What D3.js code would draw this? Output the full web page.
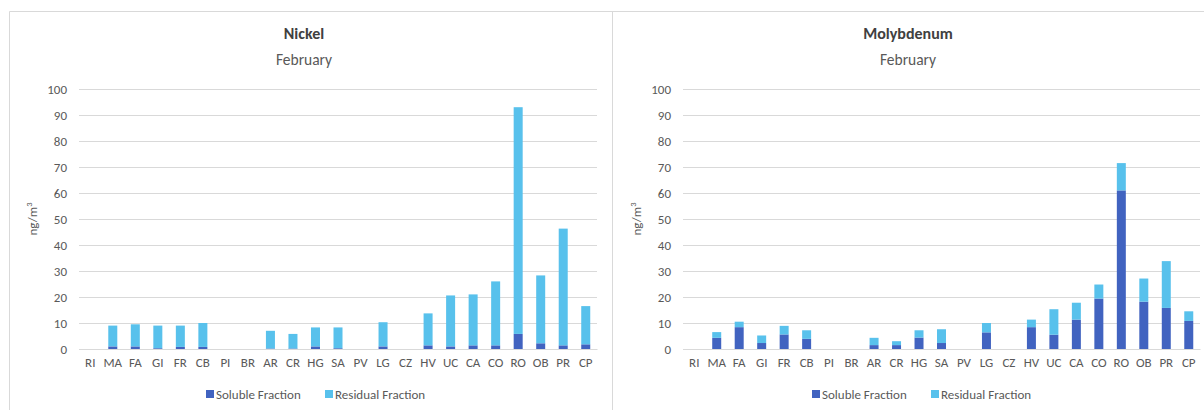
<!DOCTYPE html>
<html>
<head>
<meta charset="utf-8">
<script src="https://cdn.jsdelivr.net/npm/d3@7"></script>
<style>
  html, body { margin: 0; padding: 0; background: #fff; }
  svg { display: block; font-family: Carlito, "Open Sans", "Noto Sans", sans-serif; }
</style>
</head>
<body>
<svg id="chart" width="1204" height="410"></svg>
<script>
// Sampling sites (x categories), shared by both panels
const sites = ["RI","MA","FA","GI","FR","CB","PI","BR","AR","CR","HG","SA","PV","LG","CZ","HV","UC","CA","CO","RO","OB","PR","CP"];

// Nickel, February (ng/m3)
const nickelSoluble  = [0, 1.0, 1.0, 0.3, 0.8, 0.8, 0, 0, 0.2, 0.2, 1.0, 0.3, 0, 1.0, 0, 1.4, 1.0, 1.4, 1.4, 5.8, 2.2, 1.4, 1.8];
const nickelResidual = [0, 8.0, 8.5, 8.7, 8.2, 9.2, 0, 0, 6.8, 5.6, 7.3, 8.0, 0, 9.3, 0, 12.3, 19.6, 19.6, 24.6, 87.2, 26.1, 44.9, 14.7];

// Molybdenum, February (ng/m3)
const molySoluble  = [0, 4.3, 8.4, 2.3, 5.6, 3.9, 0, 0, 1.5, 1.5, 4.4, 2.3, 0, 6.4, 0, 8.4, 5.5, 11.3, 19.4, 61.0, 18.2, 15.8, 10.8];
const molyResidual = [0, 2.2, 2.1, 2.9, 3.3, 3.3, 0, 0, 2.8, 1.5, 2.8, 5.3, 0, 3.6, 0, 2.9, 9.8, 6.5, 5.4, 10.5, 8.9, 18.0, 3.7];

const yTicks = [0, 10, 20, 30, 40, 50, 60, 70, 80, 90, 100];
const seriesNames = ["Soluble Fraction", "Residual Fraction"];
const colors = ["#4163c0", "#58c1ec"];

const svg = d3.select("#chart");
const textColor = "#595959";
const gridColor = "#d9d9d9";
const labelFont = "Carlito, 'Open Sans', sans-serif";

// Outer frame lines of the two chart boxes
svg.append("line").attr("x1", 9.5).attr("x2", 1204).attr("y1", 11.5).attr("y2", 11.5)
  .attr("stroke", gridColor);
svg.append("line").attr("x1", 9.5).attr("x2", 9.5).attr("y1", 11.5).attr("y2", 410)
  .attr("stroke", gridColor);
svg.append("line").attr("x1", 612.5).attr("x2", 612.5).attr("y1", 11.5).attr("y2", 410)
  .attr("stroke", gridColor);

function drawPanel(cfg) {
  const g = svg.append("g");
  const x = d3.scaleBand().domain(sites).range([cfg.left, cfg.right]).paddingInner(0.6).paddingOuter(0.3);
  const y = d3.scaleLinear().domain([0, 100]).range([349, 89]);

  // Titles
  g.append("text").attr("x", cfg.center).attr("y", 39).attr("text-anchor", "middle")
    .attr("font-size", 16).attr("font-weight", "bold").attr("fill", "#404040").text(cfg.title);
  g.append("text").attr("x", cfg.center).attr("y", 65).attr("text-anchor", "middle")
    .attr("font-size", 15.5).attr("fill", textColor).text("February");

  // Gridlines + y tick labels
  const yAxis = d3.axisLeft(y).tickValues(yTicks).tickSize(-(cfg.right - cfg.left)).tickPadding(12);
  const ya = g.append("g").attr("transform", `translate(${cfg.left},0)`).call(yAxis);
  ya.select(".domain").remove();
  ya.selectAll(".tick line").attr("stroke", gridColor).attr("stroke-width", 1);
  ya.selectAll(".tick text").attr("fill", textColor).attr("font-size", 13)
    .attr("font-family", labelFont);

  // Axis title
  const yt = g.append("text").attr("transform", `translate(${cfg.left - 42},219) rotate(-90)`)
    .attr("text-anchor", "middle").attr("font-size", 13).attr("fill", textColor);
  yt.append("tspan").text("ng/m");
  yt.append("tspan").attr("dy", -5).attr("font-size", 8.5).text("3");

  // Stacked bars
  const rows = sites.map((s, i) => ({ site: s, sol: cfg.sol[i], res: cfg.res[i] }));
  const stack = d3.stack().keys(["sol", "res"])(rows);
  g.selectAll("g.layer").data(stack).join("g").attr("class", "layer")
    .attr("fill", (d, i) => colors[i])
    .selectAll("rect").data(d => d).join("rect")
    .attr("x", d => x(d.data.site))
    .attr("width", x.bandwidth())
    .attr("y", d => y(d[1]))
    .attr("height", d => y(d[0]) - y(d[1]));

  // X axis labels
  const xAxis = d3.axisBottom(x).tickSize(0).tickPadding(9);
  const xa = g.append("g").attr("transform", "translate(0,349)").call(xAxis);
  xa.select(".domain").attr("stroke", gridColor);
  xa.selectAll(".tick text").attr("fill", textColor).attr("font-size", 13)
    .attr("font-family", labelFont);

  // Legend
  const lg = g.append("g").attr("transform", `translate(${cfg.legendX},394)`);
  let off = 0;
  seriesNames.forEach((name, i) => {
    const item = lg.append("g").attr("transform", `translate(${off},0)`);
    item.append("rect").attr("x", 0).attr("y", -4).attr("width", 8).attr("height", 8).attr("fill", colors[i]);
    item.append("text").attr("x", 10).attr("y", 4.5).attr("font-size", 13)
      .attr("fill", textColor).text(name);
    off += 119;
  });
}

drawPanel({ title: "Nickel", center: 304, left: 79, right: 597, sol: nickelSoluble, res: nickelResidual, legendX: 206 });
drawPanel({ title: "Molybdenum", center: 908, left: 683, right: 1200, sol: molySoluble, res: molyResidual, legendX: 812 });
</script>
</body>
</html>
